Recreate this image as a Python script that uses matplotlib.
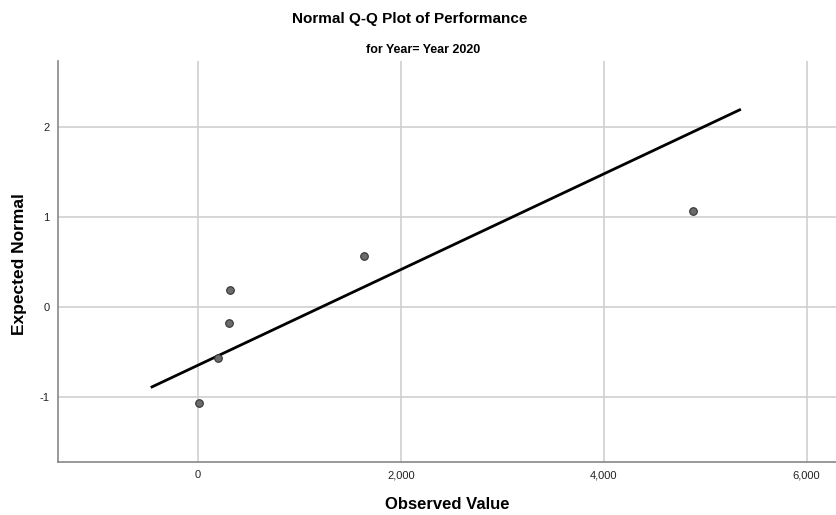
import matplotlib
matplotlib.use("Agg")
import matplotlib.pyplot as plt
import numpy as np

# observed values (sorted) and expected normal scores
observed = [13, 200, 302, 315, 1639, 4877]
expected = [-1.068, -0.566, -0.180, 0.180, 0.566, 1.068]

# reference line range (x)
line_x = [-453, 5340]

x_ticks = [0, 2000, 4000, 6000]
x_labels = ["0", "2,000", "4,000", "6,000"]
y_ticks = [-1, 0, 1, 2]

plt.rcParams["font.family"] = ["Liberation Sans", "DejaVu Sans"]
plt.rcParams["axes.unicode_minus"] = False

fig = plt.figure(figsize=(8.37, 5.15), dpi=100)
ax = fig.add_axes([58 / 837, 53 / 515, 1 - 58 / 837, (462 - 61) / 515])

# reference line from mean and sd of data
mean = np.mean(observed)
sd = np.std(observed, ddof=1)
lx = np.array(line_x)
ax.plot(lx, (lx - mean) / sd, color="black", linewidth=2.0, zorder=3)

ax.scatter(observed, expected, s=30, color="#6b6b6b", edgecolor="#333333",
           linewidth=0.8, zorder=4)

ax.set_xlim(-1380, 6300)
ax.set_ylim(-1.726, 2.73)
ax.set_xticks(x_ticks)
ax.set_xticklabels(x_labels)
ax.set_yticks(y_ticks)
ax.grid(True, color="#cfcfcf", linewidth=1.2)
ax.set_axisbelow(True)
ax.tick_params(length=0, labelsize=8, colors="#222222", pad=6)

for s in ["top", "right"]:
    ax.spines[s].set_visible(False)
for s in ["left", "bottom"]:
    ax.spines[s].set_color("#888888")
    ax.spines[s].set_linewidth(1.2)

ax.set_xlabel("Observed Value", fontsize=12, fontweight="bold", labelpad=12)
fig.text(20 / 837, 1 - 264 / 515, "Expected Normal", rotation=90, ha="center",
         va="center", fontsize=12.5, fontweight="bold")

fig.text(0.49, 1 - 19 / 515, "Normal Q-Q Plot of Performance", ha="center",
         va="center", fontsize=11, fontweight="bold")
fig.text(0.505, 1 - 50 / 515, "for Year= Year 2020", ha="center", va="center",
         fontsize=9, fontweight="bold")

fig.savefig("out.png", dpi=100)
